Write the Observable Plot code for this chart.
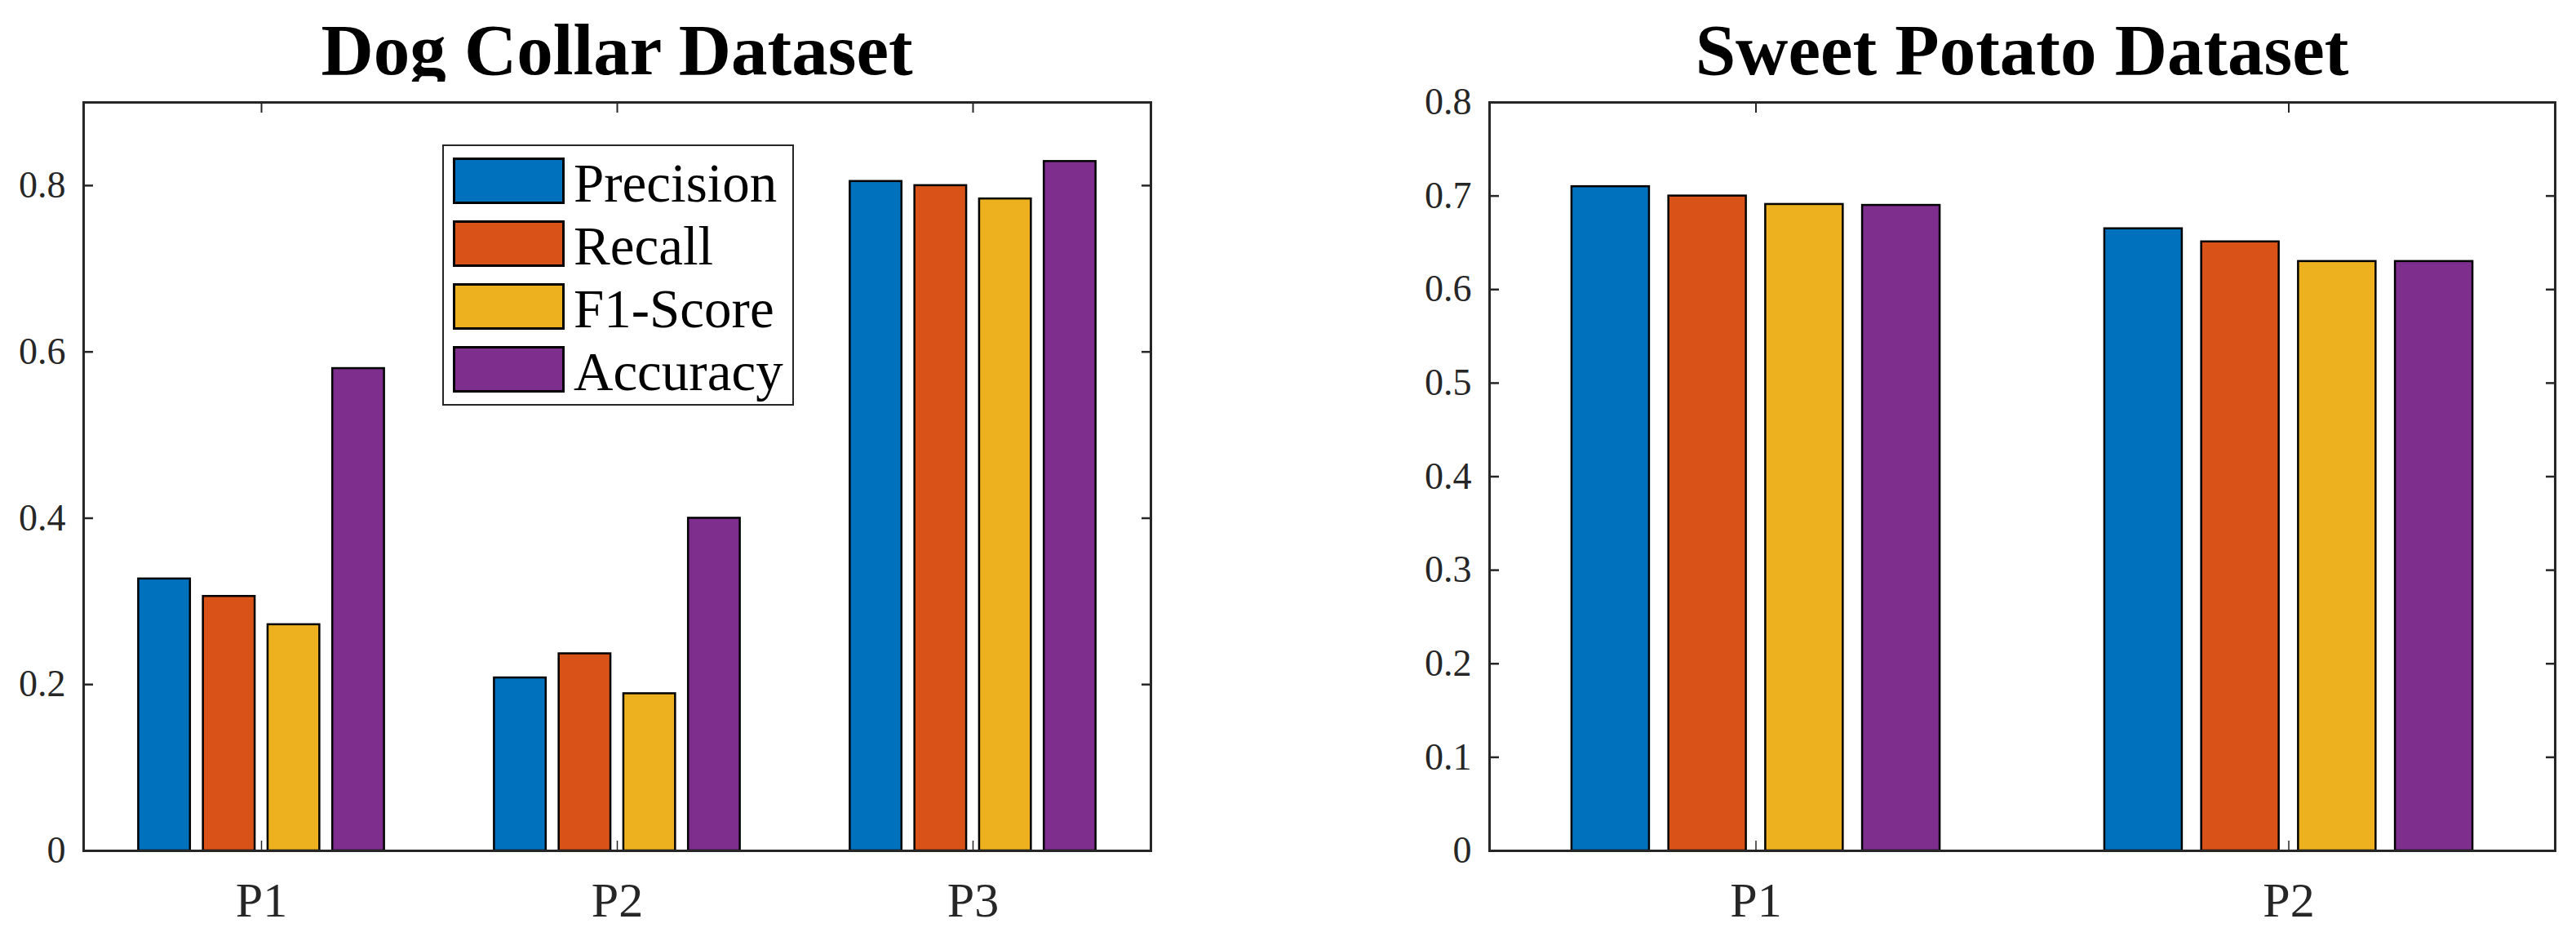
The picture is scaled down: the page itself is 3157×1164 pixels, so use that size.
<!DOCTYPE html>
<html>
<head>
<meta charset="utf-8">
<script src="https://cdn.jsdelivr.net/npm/d3@7"></script>
<script src="https://cdn.jsdelivr.net/npm/@observablehq/plot@0.6"></script>
<style>
html, body { margin: 0; padding: 0; background: #fff; }
#page { position: relative; width: 3157px; height: 1164px; overflow: hidden; background: #fff;
  font-family: "Liberation Serif", "Times New Roman", serif; }
.title { position: absolute; top: 17px; font-weight: bold; font-size: 89px; line-height: 1; color: #000;
  text-align: center; white-space: nowrap; }
.chart { position: absolute; top: 100px; }
.chart svg { overflow: visible; font-family: "Liberation Serif", "Times New Roman", serif !important; }
.chart svg text { font-family: "Liberation Serif", "Times New Roman", serif; }
.legend { position: absolute; box-sizing: border-box; border: 2px solid #262626; background: #fff; }
.legend .row { position: absolute; left: 11px; display: flex; align-items: flex-start; }
.legend .sw { width: 137px; height: 57px; box-sizing: border-box; border: 3px solid #000; }
.legend .lab { margin-left: 11px; font-size: 67px; line-height: 57px; position: relative; top: 3px; color: #000; white-space: nowrap; }
</style>
</head>
<body>
<div id="page"></div>
<script>
// ---- data ----
const metrics = ["Precision", "Recall", "F1-Score", "Accuracy"];
const metricColors = ["#0072BD", "#D95319", "#EDB120", "#7E2F8E"];

const dogTitle = "Dog Collar Dataset";
const dogGroups = ["P1", "P2", "P3"];
const dogPrecision = [0.327, 0.208, 0.805];
const dogRecall    = [0.306, 0.237, 0.800];
const dogF1        = [0.272, 0.189, 0.784];
const dogAccuracy  = [0.580, 0.400, 0.829];
const dogYTicks = [0, 0.2, 0.4, 0.6, 0.8];
const dogYMax = 0.9;

const potatoTitle = "Sweet Potato Dataset";
const potatoGroups = ["P1", "P2"];
const potatoPrecision = [0.710, 0.665];
const potatoRecall    = [0.700, 0.651];
const potatoF1        = [0.691, 0.630];
const potatoAccuracy  = [0.690, 0.630];
const potatoYTicks = [0, 0.1, 0.2, 0.3, 0.4, 0.5, 0.6, 0.7, 0.8];
const potatoYMax = 0.8;

// ---- layout helpers (MATLAB grouped bar geometry) ----
const nSeries = metrics.length;
const groupWidth = Math.min(0.8, nSeries / (nSeries + 1.5));
const barStep = groupWidth / nSeries;
const barW = 0.8 * barStep;
const ink = "#262626";
const serif = '"Liberation Serif", "Times New Roman", serif';

function makeChart({groups, series, yTicks, yMax, width, marginLeft, marginRight}) {
  const rows = [];
  groups.forEach((g, gi) => {
    series.forEach((vals, mi) => {
      rows.push({group: gi + 1, mi, metric: metrics[mi], value: vals[gi]});
    });
  });
  const xTicks = groups.map((g, i) => i + 1);
  const height = 1064;
  return Plot.plot({
    width, height,
    marginTop: 25, marginBottom: 122, marginLeft, marginRight,
    style: {fontFamily: serif, background: "#fff", color: ink},
    x: {domain: [0.5, groups.length + 0.5], axis: null},
    y: {domain: [0, yMax], axis: null},
    color: {domain: metrics, range: metricColors},
    marks: [
      Plot.rectY(rows, {
        x1: d => d.group + (d.mi - (nSeries - 1) / 2) * barStep - barW / 2,
        x2: d => d.group + (d.mi - (nSeries - 1) / 2) * barStep + barW / 2,
        y1: 0, y2: "value",
        fill: "metric", stroke: "#000", strokeWidth: 2.5
      }),
      // inward ticks
      Plot.axisY({anchor: "left", ticks: yTicks, tickSize: -12, fill: "none", stroke: ink, strokeWidth: 2.5, label: null}),
      Plot.axisY({anchor: "right", ticks: yTicks, tickSize: -12, fill: "none", stroke: ink, strokeWidth: 2.5, label: null}),
      Plot.axisX({anchor: "top", ticks: xTicks, tickSize: -12, fill: "none", stroke: ink, strokeWidth: 2, label: null}),
      Plot.axisX({anchor: "bottom", ticks: xTicks, tickSize: -12, fill: "none", stroke: ink, strokeWidth: 1.5, label: null}),
      // labels
      Plot.axisY({anchor: "left", ticks: yTicks, tickSize: 0, tickPadding: 22, fontSize: 46, fontFamily: serif, fill: ink,
        tickFormat: d => String(d), label: null}),
      Plot.axisX({anchor: "bottom", ticks: xTicks, tickSize: 0, tickPadding: 38, fontSize: 60, fontFamily: serif, fill: ink,
        tickFormat: i => groups[i - 1], label: null}),
      Plot.frame({stroke: ink, strokeWidth: 3})
    ]
  });
}

const page = document.getElementById("page");

function addChart({title, left, width, marginLeft, marginRight, ...rest}) {
  const t = document.createElement("div");
  t.className = "title";
  t.textContent = title;
  t.style.left = (left + marginLeft) + "px";
  t.style.width = (width - marginLeft - marginRight) + "px";
  page.appendChild(t);
  const holder = document.createElement("div");
  holder.className = "chart";
  holder.style.left = left + "px";
  holder.appendChild(makeChart({width, marginLeft, marginRight, ...rest}));
  page.appendChild(holder);
}

addChart({
  title: dogTitle, left: 0, width: 1440, marginLeft: 102, marginRight: 30,
  groups: dogGroups, series: [dogPrecision, dogRecall, dogF1, dogAccuracy],
  yTicks: dogYTicks, yMax: dogYMax
});

addChart({
  title: potatoTitle, left: 1700, width: 1457, marginLeft: 125, marginRight: 26,
  groups: potatoGroups, series: [potatoPrecision, potatoRecall, potatoF1, potatoAccuracy],
  yTicks: potatoYTicks, yMax: potatoYMax
});

// legend (inside the left chart)
const legend = document.createElement("div");
legend.className = "legend";
legend.style.left = "542px";
legend.style.top = "177px";
legend.style.width = "431px";
legend.style.height = "320px";
metrics.forEach((m, i) => {
  const row = document.createElement("div");
  row.className = "row";
  row.style.top = (14 + i * 77) + "px";
  const sw = document.createElement("div");
  sw.className = "sw";
  sw.style.background = metricColors[i];
  const lab = document.createElement("span");
  lab.className = "lab";
  lab.textContent = m;
  row.appendChild(sw);
  row.appendChild(lab);
  legend.appendChild(row);
});
page.appendChild(legend);
</script>
</body>
</html>
